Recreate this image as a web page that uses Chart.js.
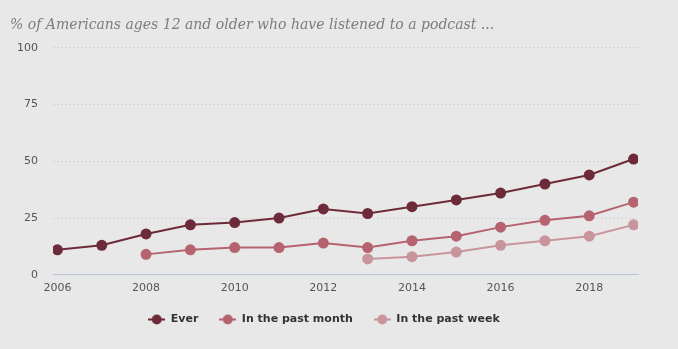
<!DOCTYPE html>
<html>
<head>
<meta charset="utf-8">
<script src="https://cdn.jsdelivr.net/npm/chart.js@4/dist/chart.umd.min.js"></script>
<style>
  html, body { margin: 0; padding: 0; background: #e8e8e8; }
  #wrap { width: 678px; height: 349px; }
</style>
</head>
<body>
<div id="wrap"><canvas id="podcast-chart" width="678" height="349"></canvas></div>
<script>
const years = [2006, 2007, 2008, 2009, 2010, 2011, 2012, 2013, 2014, 2015, 2016, 2017, 2018, 2019];
const everValues = [11, 13, 18, 22, 23, 25, 29, 27, 30, 33, 36, 40, 44, 51];
const monthValues = [null, null, 9, 11, 12, 12, 14, 12, 15, 17, 21, 24, 26, 32];
const weekValues = [null, null, null, null, null, null, null, 7, 8, 10, 13, 15, 17, 22];
const xTicks = [2006, 2008, 2010, 2012, 2014, 2016, 2018];
const yTicks = [0, 25, 50, 75, 100];
const seriesNames = ['Ever', 'In the past month', 'In the past week'];
const seriesColors = ['#6d2b3a', '#b5636f', '#c9959d'];

// little line-with-dot swatch for the legend
function legendSwatch(color) {
  const c = document.createElement('canvas');
  c.width = 17;
  c.height = 11;
  const ctx = c.getContext('2d');
  ctx.strokeStyle = color;
  ctx.lineWidth = 2;
  ctx.beginPath();
  ctx.moveTo(0, 5.5);
  ctx.lineTo(17, 5.5);
  ctx.stroke();
  ctx.fillStyle = color;
  ctx.beginPath();
  ctx.arc(8.5, 5.5, 5, 0, Math.PI * 2);
  ctx.fill();
  return c;
}

function makeSeries(values, i) {
  return {
    label: seriesNames[i],
    data: years.map((y, k) => ({ x: y, y: values[k] })).filter((p) => p.y !== null),
    borderColor: seriesColors[i],
    backgroundColor: seriesColors[i],
    borderWidth: 2,
    pointRadius: 5.5,
    pointHoverRadius: 5.5,
    pointBorderWidth: 0,
    pointStyle: 'circle',
    tension: 0
  };
}

// pull the legend a bit closer to the axis labels without shrinking item spacing
const legendNudge = {
  id: 'legendNudge',
  afterLayout(chart) {
    const lg = chart.legend;
    if (!lg) return;
    lg.top -= 9;
    lg.bottom -= 9;
  }
};

new Chart(document.getElementById('podcast-chart'), {
  type: 'line',
  data: {
    datasets: [everValues, monthValues, weekValues].map(makeSeries)
  },
  plugins: [legendNudge],
  options: {
    responsive: false,
    animation: false,
    layout: { padding: { left: 10, right: 40, top: 0, bottom: 7 } },
    plugins: {
      tooltip: { enabled: false },
      title: {
        display: true,
        text: '% of Americans ages 12 and older who have listened to a podcast ...',
        align: 'start',
        color: '#7c7c7c',
        font: { family: 'Georgia, "DejaVu Serif", serif', size: 14, style: 'italic', weight: 'normal' },
        padding: { top: 17, bottom: 14 }
      },
      legend: {
        position: 'bottom',
        maxHeight: 40,
        labels: {
          usePointStyle: true,
          pointStyleWidth: 17,
          generateLabels: (chart) => chart.data.datasets.map((ds, i) => ({
            text: ds.label,
            pointStyle: legendSwatch(seriesColors[i]),
            fontColor: '#333333',
            datasetIndex: i,
            lineWidth: 0,
            strokeStyle: 'transparent',
            fillStyle: seriesColors[i]
          })),
          color: '#333333',
          padding: 21,
          font: { family: '"DejaVu Sans", sans-serif', size: 11, weight: 'bold' }
        }
      }
    },
    scales: {
      x: {
        type: 'linear',
        min: 2005.9,
        max: 2019.1,
        afterBuildTicks: (axis) => { axis.ticks = xTicks.map((v) => ({ value: v })); },
        grid: { display: false, drawTicks: false },
        border: { display: true, color: '#b8c4d8', width: 1 },
        ticks: {
          color: '#555555',
          padding: 7,
          maxRotation: 0,
          font: { family: '"DejaVu Sans", sans-serif', size: 11 },
          callback: (v) => String(v)
        }
      },
      y: {
        min: 0,
        max: 100,
        afterBuildTicks: (axis) => { axis.ticks = yTicks.map((v) => ({ value: v })); },
        afterFit: (axis) => { axis.width = 43; },
        grid: {
          color: (ctx) => (ctx.tick && ctx.tick.value === 0 ? 'transparent' : '#d4d4d4'),
          drawTicks: false,
          lineWidth: 1
        },
        border: { display: false, dash: [2, 2] },
        ticks: {
          color: '#555555',
          padding: 15,
          font: { family: '"DejaVu Sans", sans-serif', size: 11 }
        }
      }
    }
  }
});
</script>
</body>
</html>
